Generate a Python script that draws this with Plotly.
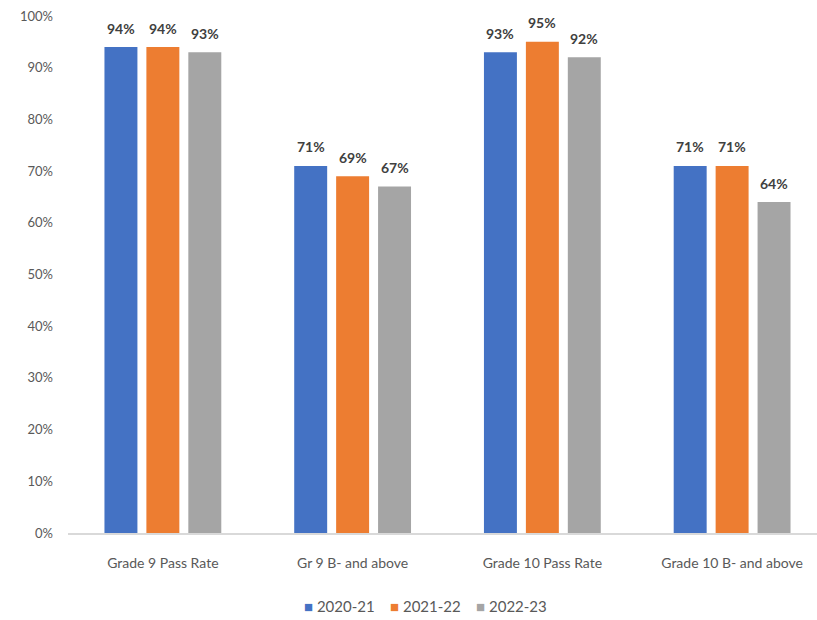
import plotly.graph_objects as go

categories = ["Grade 9 Pass Rate", "Gr 9 B- and above", "Grade 10 Pass Rate", "Grade 10 B- and above"]
series_names = ["2020-21", "2021-22", "2022-23"]
rates_2020_21 = [0.94, 0.71, 0.93, 0.71]
rates_2021_22 = [0.94, 0.69, 0.95, 0.71]
rates_2022_23 = [0.93, 0.67, 0.92, 0.64]
y_ticks = [0, 0.1, 0.2, 0.3, 0.4, 0.5, 0.6, 0.7, 0.8, 0.9, 1.0]

colors = ["#4472C4", "#ED7D31", "#A5A5A5"]
series_values = [rates_2020_21, rates_2021_22, rates_2022_23]
font_family = "Lato, Liberation Sans, Arial, sans-serif"

fig = go.Figure()
for name, vals, col in zip(series_names, series_values, colors):
    fig.add_trace(go.Bar(
        x=list(range(len(categories))), y=vals, name=name,
        marker=dict(color=col, line=dict(width=0)),
        hoverinfo="skip", showlegend=False,
    ))

# value labels above each bar, offset by bar slot within the group
slot_px = 42
annotations = []
for i, vals in enumerate(series_values):
    for j, v in enumerate(vals):
        annotations.append(dict(
            x=j, y=v, xref="x", yref="y",
            text=f"<b>{round(v * 100)}%</b>",
            showarrow=False, xshift=(i - 1) * slot_px, yshift=19,
            font=dict(family=font_family, size=14, color="#404040"),
        ))

# compact legend row: coloured square followed by the series name
legend_text = "&nbsp;&nbsp;&nbsp;&nbsp;".join(
    f"<span style='color:{col}'>■</span>&nbsp;{name}" for name, col in zip(series_names, colors)
)
annotations.append(dict(
    x=0.477, y=-0.141, xref="paper", yref="paper",
    xanchor="center", yanchor="middle", showarrow=False,
    text=legend_text,
    font=dict(family=font_family, size=15, color="#595959"),
))

fig.update_layout(
    width=817, height=620,
    margin=dict(l=68, r=0, t=16, b=87),
    paper_bgcolor="white", plot_bgcolor="white",
    barmode="group", bargap=0.337, bargroupgap=0.214,
    font=dict(family=font_family, color="#595959"),
    showlegend=False,
    annotations=annotations,
    xaxis=dict(
        tickmode="array", tickvals=list(range(len(categories))), ticktext=categories,
        range=[-0.5, 3.5 - 10 / 190],
        showgrid=False, zeroline=False,
        showline=True, linecolor="#D9D9D9", linewidth=1.5,
        ticks="", tickfont=dict(family=font_family, size=14, color="#595959"),
        ticklabelstandoff=16,
    ),
    yaxis=dict(
        range=[0, 1], tickvals=y_ticks, tickformat=".0%",
        showgrid=False, zeroline=False, showline=False, ticks="",
        tickfont=dict(family=font_family, size=13, color="#595959"),
        ticklabelstandoff=14,
    ),
)

fig.write_html("out.html")
